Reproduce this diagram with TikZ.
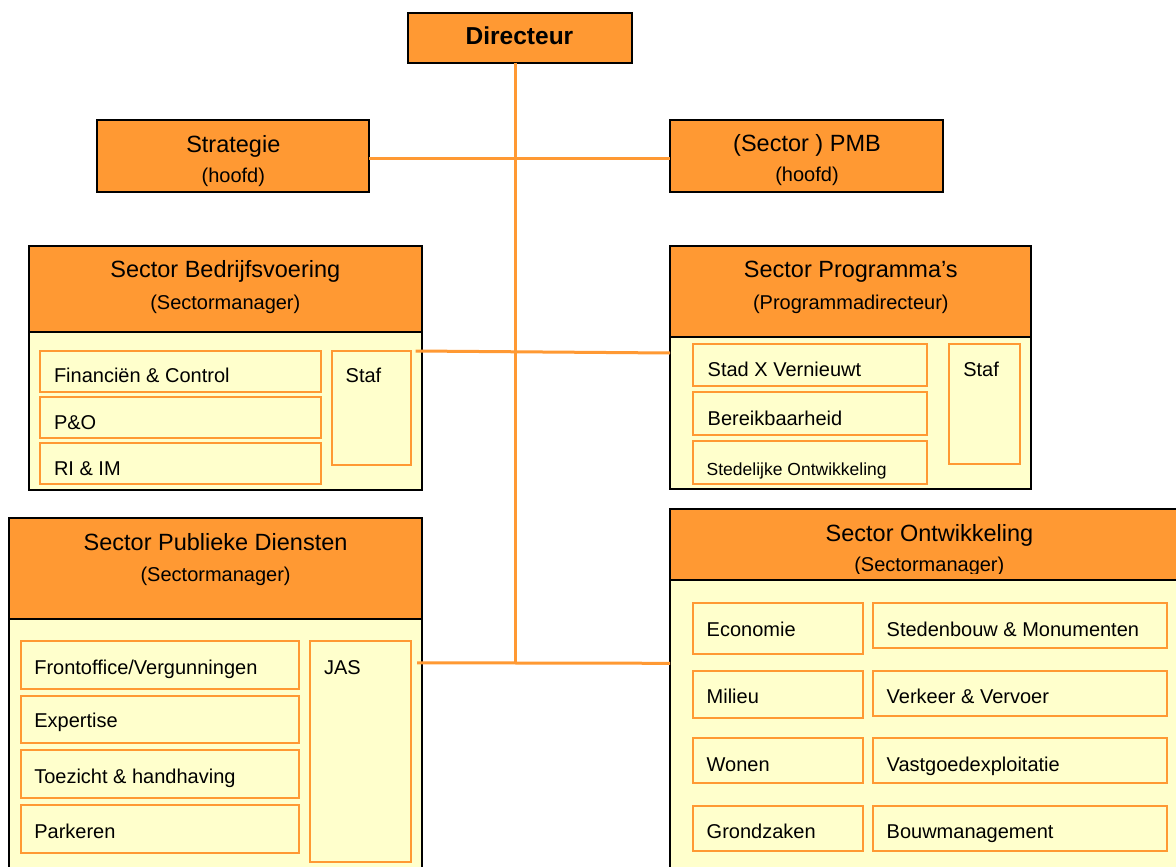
\documentclass[tikz,border=0pt]{standalone}
\usepackage{fontspec}
\setmainfont{Liberation Sans}
\usetikzlibrary{calc}
\definecolor{org}{RGB}{255,153,51}
\definecolor{lyel}{RGB}{255,255,204}
\begin{document}
\begin{tikzpicture}[x=1pt,y=-1pt,
  every node/.style={outer sep=0pt},
  darkbox/.style={draw=black, line width=2pt, fill=org, anchor=north west, inner sep=0pt},
  bodybox/.style={draw=black, line width=2pt, fill=lyel, anchor=north west, inner sep=0pt},
  itembox/.style={draw=org, line width=2pt, fill=lyel, anchor=north west, inner sep=0pt},
  conn/.style={draw=org, line width=3pt},
  ttl/.style={inner sep=0pt, anchor=base, font=\fontsize{23.5}{28}\selectfont},
  sub/.style={inner sep=0pt, anchor=base, font=\fontsize{20}{24}\selectfont},
  itm/.style={inner sep=0pt, anchor=base west, font=\fontsize{20}{24}\selectfont},
  smallitm/.style={inner sep=0pt, anchor=base west, font=\fontsize{17.5}{21}\selectfont}]
\clip (0,0) rectangle (1176,867);
\fill[white] (0,0) rectangle (1176,867);

% Directeur
\node[darkbox, minimum width=224pt, minimum height=50pt] (dir) at (407.5,12.7) {};
\node[inner sep=0pt, anchor=base, font=\fontsize{24.5}{29}\selectfont\bfseries] (dirt) at (519.5,45) {Directeur};

% Strategie / PMB
\node[darkbox, minimum width=272.6pt, minimum height=72pt] (strat) at (96.7,119.5) {};
\node[ttl] (stratt) at (233.3,152.3) {Strategie};
\node[sub] (strats) at (233.3,182.7) {(hoofd)};
\node[darkbox, minimum width=272.7pt, minimum height=72pt] (pmb) at (670,119.5) {};
\node[ttl] (pmbt) at (807,151.7) {(Sector ) PMB};
\node[sub] (pmbs) at (807,181.7) {(hoofd)};

% Sector Bedrijfsvoering
\node[bodybox, minimum width=393.2pt, minimum height=243.5pt] (bv) at (28.5,246) {};
\node[darkbox, minimum width=393.2pt, minimum height=86pt] (bvh) at (28.5,246) {};
\node[ttl] (bvt) at (225.3,277.3) {Sector Bedrijfsvoering};
\node[sub] (bvs) at (225.3,309) {(Sectormanager)};
\node[itembox, minimum width=281pt, minimum height=41pt] (fc) at (40,350.7) {};
\node[itembox, minimum width=281pt, minimum height=41pt] (po) at (40,396.7) {};
\node[itembox, minimum width=281pt, minimum height=41.3pt] (ri) at (40,442.7) {};
\node[itembox, minimum width=79.3pt, minimum height=114.6pt] (staf1) at (331.7,350.7) {};
\node[itm] (fct) at (54,382.7) {Financiën \& Control};
\node[itm] (pot) at (54,429.3) {P\&O};
\node[itm] (rit) at (54,475.3) {RI \& IM};
\node[itm] (staf1t) at (345.7,382.7) {Staf};

% Sector Programma's
\node[bodybox, minimum width=361pt, minimum height=243.3pt] (pr) at (670,246) {};
\node[darkbox, minimum width=361pt, minimum height=90.7pt] (prh) at (670,246) {};
\node[ttl] (prt) at (850.8,277.3) {Sector Programma’s};
\node[sub] (prs) at (850.8,309.3) {(Programmadirecteur)};
\node[itembox, minimum width=233.4pt, minimum height=42.3pt] (sx) at (693.3,343.7) {};
\node[itembox, minimum width=233.4pt, minimum height=42.7pt] (be) at (693.3,392.3) {};
\node[itembox, minimum width=233.4pt, minimum height=43pt] (so) at (693.3,441) {};
\node[itembox, minimum width=70.4pt, minimum height=120.3pt] (staf2) at (949.3,343.7) {};
\node[itm] (sxt) at (707.7,376) {Stad X Vernieuwt};
\node[itm] (bet) at (707.7,425) {Bereikbaarheid};
\node[smallitm] (sot) at (706.7,475) {Stedelijke Ontwikkeling};
\node[itm] (staf2t) at (963.3,376) {Staf};

% Sector Publieke Diensten
\node[bodybox, minimum width=412.7pt, minimum height=400pt] (pd) at (9.3,518.3) {};
\node[darkbox, minimum width=412.7pt, minimum height=100.7pt] (pdh) at (9.3,518.3) {};
\node[ttl] (pdt) at (215.6,550) {Sector Publieke Diensten};
\node[sub] (pds) at (215.6,581) {(Sectormanager)};
\node[itembox, minimum width=278.6pt, minimum height=48pt] (fo) at (20.7,641) {};
\node[itembox, minimum width=278.6pt, minimum height=47.3pt] (ex) at (20.7,696) {};
\node[itembox, minimum width=278.6pt, minimum height=48.3pt] (tz) at (20.7,750) {};
\node[itembox, minimum width=278.6pt, minimum height=47.7pt] (pk) at (20.7,805) {};
\node[itembox, minimum width=101.3pt, minimum height=221.3pt] (jas) at (310,641) {};
\node[itm] (fot) at (34.3,674.3) {Frontoffice/Vergunningen};
\node[itm] (ext) at (34.3,727.7) {Expertise};
\node[itm] (tzt) at (34.3,783.3) {Toezicht \& handhaving};
\node[itm] (pkt) at (34.3,838.3) {Parkeren};
\node[itm] (jast) at (324,674.3) {JAS};

% Sector Ontwikkeling
\node[bodybox, minimum width=519pt, minimum height=400pt] (ob) at (670,509.3) {};
\node[darkbox, minimum width=519pt, minimum height=70.7pt] (obh) at (670,509.3) {};
\node[ttl] (obt) at (929.5,541.7) {Sector Ontwikkeling};
\begin{scope}
  \clip (670,500) rectangle (1189,573.3);
  \node[sub] (obs) at (929.3,571.7) {(Sectormanager)};
\end{scope}
\node[itembox, minimum width=170.6pt, minimum height=51.6pt] (eco) at (692.7,602.7) {};
\node[itembox, minimum width=294pt, minimum height=45pt] (stm) at (872.7,602.7) {};
\node[itembox, minimum width=170.6pt, minimum height=47.6pt] (mil) at (692.7,670.7) {};
\node[itembox, minimum width=294pt, minimum height=45pt] (vv) at (872.7,670.7) {};
\node[itembox, minimum width=170.6pt, minimum height=45pt] (won) at (692.7,737.7) {};
\node[itembox, minimum width=294pt, minimum height=45.6pt] (vg) at (872.7,737.7) {};
\node[itembox, minimum width=170.6pt, minimum height=45pt] (gz) at (692.7,805.7) {};
\node[itembox, minimum width=294pt, minimum height=45pt] (bm) at (872.7,805.7) {};
\node[itm] (ecot) at (706.7,636.7) {Economie};
\node[itm] (stmt) at (886.7,636.7) {Stedenbouw \& Monumenten};
\node[itm] (milt) at (706.7,703.3) {Milieu};
\node[itm] (vvt) at (886.7,703.3) {Verkeer \& Vervoer};
\node[itm] (wont) at (706.7,771.7) {Wonen};
\node[itm] (vgt) at (886.7,771.7) {Vastgoedexploitatie};
\node[itm] (gzt) at (706.7,838.3) {Grondzaken};
\node[itm] (bmt) at (886.7,838.3) {Bouwmanagement};

% connectors
\draw[conn] ($(strat.east)+(0,3)$) -- ($(pmb.west)+(0,3)$);
\draw[conn] ($(bv.north east)+(-6,105)$) -- ($(pr.north west)+(0,107)$);
\draw[conn] ($(pd.north east)+(-5,144.5)$) coordinate (pdc) -- ($(ob.north west)+(0,154)$);
\draw[conn] ($(dir.south)+(-4.5,0)$) coordinate (dirc) -- (dirc |- pdc);
\end{tikzpicture}
\end{document}
